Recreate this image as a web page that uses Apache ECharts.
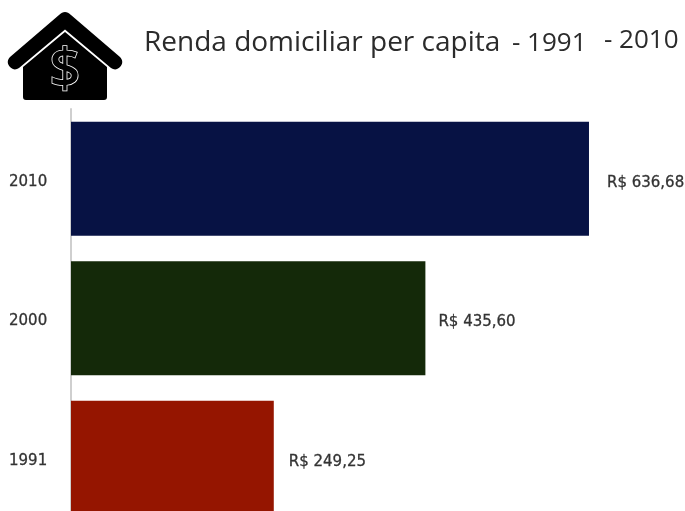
<!DOCTYPE html>
<html>
<head>
<meta charset="utf-8">
<title>Renda domiciliar per capita</title>
<script src="https://cdn.jsdelivr.net/npm/echarts@6/dist/echarts.min.js"></script>
<style>
html, body { margin: 0; padding: 0; background: #fff; }
#chart { width: 685px; height: 511px; }
</style>
</head>
<body>
<div id="chart"></div>
<script>
var anos = ['1991', '2000', '2010'];
var renda = [249.25, 435.60, 636.68];
var cores = ['#951500', '#142909', '#071244'];

var labelGap = [15, 13, 18];

var housePath = 'M65 12 C67 12 69 13 71 15 L120 57 C123 60 123 64 120 67 C117 70 114 70 111 68 L65 29.5 L19 68 C16 70 13 70 10 67 C7 64 7 60 10 57 L59 15 C61 13 63 12 65 12 Z ' +
    'M65 32 L107 67 L107 97 C107 99 106 100 104 100 L26 100 C24 100 23 99 23 97 L23 67 Z';
var fontTitulo = '"Open Sans", "Noto Sans", sans-serif';
var fontEixo = '"DejaVu Sans", sans-serif';

echarts.graphic.registerShape('casa', echarts.graphic.extendPath(housePath, {}));

var myChart = echarts.init(document.getElementById('chart'), null, { renderer: 'canvas' });
var option = {
    animation: false,
    backgroundColor: '#fff',
    grid: { left: 71, top: 109, width: 569.5, height: 418.5, outerBoundsMode: 'none' },
    xAxis: { type: 'value', min: 0, max: 700, show: false },
    yAxis: {
        type: 'category',
        data: anos,
        axisLine: { show: true, lineStyle: { color: '#cfcfcf', width: 2 } },
        axisTick: { show: false },
        axisLabel: {
            align: 'left',
            margin: 62,
            formatter: '{ano|{value}}',
            rich: {
                ano: {
                    color: '#333',
                    fontFamily: fontEixo,
                    fontSize: 15,
                    textBorderColor: '#333',
                    textBorderWidth: 0.3,
                    padding: [6, 0, 0, 0]
                }
            }
        }
    },
    series: [{
        type: 'bar',
        barWidth: 114,
        data: renda.map(function (v, i) {
            return {
                value: v,
                itemStyle: { color: cores[i] },
                label: { distance: labelGap[i] }
            };
        }),
        label: {
            show: true,
            position: 'right',
            offset: [0, 4],
            color: '#333',
            fontFamily: fontEixo,
            fontSize: 15,
            textBorderColor: '#333',
            textBorderWidth: 0.3,
            formatter: function (p) {
                return 'R$ ' + p.value.toFixed(2).replace('.', ',');
            }
        }
    }],
    graphic: [
        {
            type: 'casa',
            style: { fill: '#000' }
        },
        {
            type: 'text',
            style: { x: 65, y: 72, text: '$', align: 'center', verticalAlign: 'middle', fill: '#000', stroke: '#fff', lineWidth: 1.5, fontSize: 54, fontFamily: fontTitulo, fontWeight: 600 }
        },
        {
            type: 'text',
            style: { x: 144, y: 29, text: 'Renda domiciliar per capita', fill: '#2b2b2b', fontSize: 28, fontFamily: fontTitulo }
        },
        {
            type: 'text',
            style: { x: 512, y: 31, text: '- 1991', fill: '#2b2b2b', fontSize: 26, fontFamily: fontTitulo }
        },
        {
            type: 'text',
            style: { x: 604, y: 28, text: '- 2010', fill: '#2b2b2b', fontSize: 26, fontFamily: fontTitulo }
        }
    ]
};
myChart.setOption(option);
</script>
</body>
</html>
